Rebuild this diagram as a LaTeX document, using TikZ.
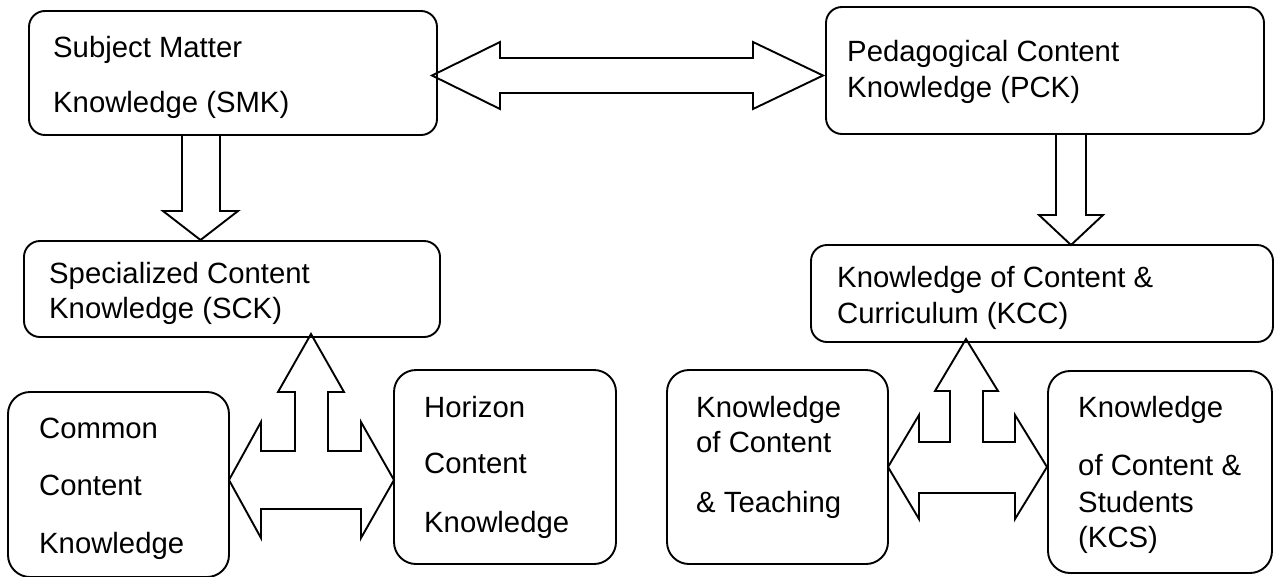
\documentclass[tikz,border=0pt]{standalone}
\usepackage{fontspec}
\setmainfont{Liberation Sans}
\usetikzlibrary{positioning}

\tikzset{
  box/.style={draw, line width=1.9pt, rounded corners=16pt, inner sep=0pt},
  tallbox/.style={box, rounded corners=22pt},
  txt/.style={anchor=base west, inner sep=0pt, align=left, font=\fontsize{29.3}{36}\selectfont},
  blockarrow/.style={draw, line width=1.9pt, line join=miter},
}

\begin{document}
\begin{tikzpicture}[x=1pt,y=-1pt]
                \useasboundingbox (0,0) rectangle (1275,576);
                % top row (text nodes sit on their last baseline)
                \node[box, minimum width=408pt, minimum height=124pt] (smk) at (233,73) {};
                \node[box, minimum width=438pt, minimum height=127pt] (pck) at (1045,70.5) {};
                \node[txt] (smk-t) at (53,112) {Subject Matter\\[19pt]Knowledge (SMK)};
                \node[txt] (pck-t) at (847,97) {Pedagogical Content\\Knowledge (PCK)};
                % second row
                \node[box, minimum width=416pt, minimum height=96pt] (sck) at (232,289) {};
                \node[box, minimum width=462pt, minimum height=97pt] (kcc) at (1042,293.5) {};
                \node[txt] (sck-t) at (49,318) {Specialized Content\\[-1pt]Knowledge (SCK)};
                \node[txt] (kcc-t) at (837,323) {Knowledge of Content \&\\Curriculum (KCC)};
                % bottom row
                \node[tallbox, minimum width=221pt, minimum height=185pt] (cck) at (118.5,484.5) {};
                \node[tallbox, minimum width=222pt, minimum height=194pt] (hck) at (505,467) {};
                \node[tallbox, minimum width=221pt, minimum height=194pt] (kct) at (777.5,467) {};
                \node[tallbox, minimum width=224pt, minimum height=202pt] (kcs) at (1160,472) {};
                \node[txt] (cck-t) at (39,553) {Common\\[21pt]Content\\[22pt]Knowledge};
                \node[txt] (hck-t) at (424,532) {Horizon\\[20pt]Content\\[23pt]Knowledge};
                \node[txt] (kct-t) at (696,512) {Knowledge\\[-1pt]of Content\\[24pt]\& Teaching};
                \node[txt] (kcs-t) at (1078,547) {Knowledge\\[22pt]of Content \&\\[1pt]Students\\[-1pt](KCS)};
                % SMK <-> PCK
                \draw[blockarrow] (432,75.5) -- (500,42) -- (500,58) -- (753,58) -- (753,42) -- (823,75.5)
                    -- (753,109) -- (753,93) -- (500,93) -- (500,109) -- cycle;
                % SMK -> SCK, PCK -> KCC
                \draw[blockarrow] (182,135) -- (182,211) -- (163,211) -- (200.5,240) -- (238,211) -- (220,211) -- (220,135);
                \draw[blockarrow] (1056,134) -- (1056,215) -- (1039,215) -- (1071,245) -- (1103,215) -- (1086,215) -- (1086,134);
                % three-way arrow under SCK
                \draw[blockarrow] (311,334) -- (344,392) -- (328,392) -- (328,451) -- (361,451) -- (361,422) -- (394,480)
                    -- (361,538) -- (361,509) -- (261,509) -- (261,538) -- (229,480) -- (261,422) -- (261,451)
                    -- (295,451) -- (295,392) -- (278,392) -- cycle;
                % three-way arrow under KCC
                \draw[blockarrow] (966,339) -- (998,391) -- (983,391) -- (983,442) -- (1015,442) -- (1015,415) -- (1047,467)
                    -- (1015,519) -- (1015,493) -- (919,493) -- (919,519) -- (888,467) -- (919,415) -- (919,442)
                    -- (950,442) -- (950,391) -- (935,391) -- cycle;
\end{tikzpicture}
\end{document}
